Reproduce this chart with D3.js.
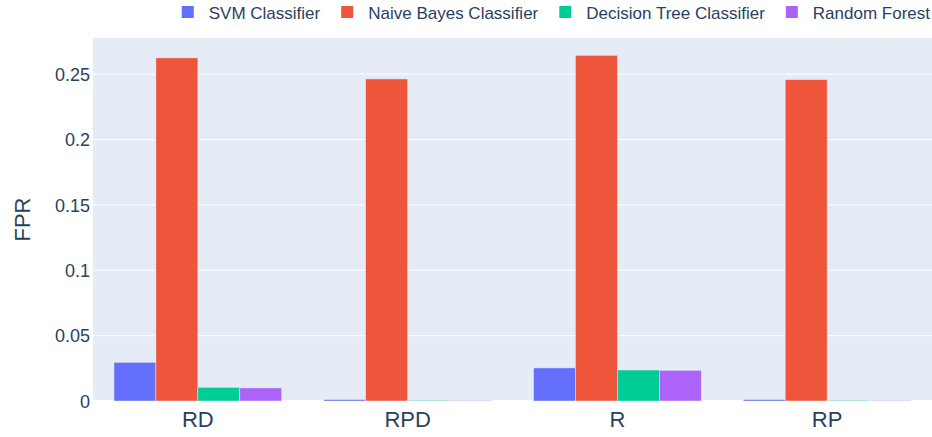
<!DOCTYPE html>
<html><head><meta charset="utf-8">
<script src="https://cdn.jsdelivr.net/npm/d3@7"></script>
<style>body{margin:0;background:#fff}svg{display:block;font-family:"Liberation Sans",Arial,sans-serif}</style>
</head><body><svg id="c" width="932" height="437"></svg>
<script>
const categories = ["RD","RPD","R","RP"];
const seriesNames = ["SVM Classifier","Naive Bayes Classifier","Decision Tree Classifier","Random Forest"];
const svmValues = [0.0296, 0.0011, 0.0253, 0.0011];
const nbValues = [0.2624, 0.2463, 0.2644, 0.2458];
const dtValues = [0.0105, 0.0006, 0.0237, 0.0006];
const rfValues = [0.0100, 0.0004, 0.0235, 0.0004];
const colors = ["#636efa","#EF553B","#00cc96","#ab63fa"];
const yTicks = [0, 0.05, 0.1, 0.15, 0.2, 0.25];
const yTickLabels = ["0","0.05","0.1","0.15","0.2","0.25"];
const yTitle = "FPR";

const series = [svmValues, nbValues, dtValues, rfValues];
const svg = d3.select("#c");
const m = {l:93, r:932, t:38, b:401};
const font = "#2a3f5f";
const maxV = d3.max(series.flat());
const y = d3.scaleLinear().domain([0, maxV*1.05]).range([m.b, m.t]);
const x0 = d3.scaleBand().domain(categories).range([m.l, m.r]).paddingInner(0.2).paddingOuter(0.1);
const x1 = d3.scaleBand().domain(d3.range(series.length)).range([0, x0.bandwidth()]);

svg.append("rect").attr("x", m.l).attr("y", m.t).attr("width", m.r-m.l).attr("height", m.b-m.t).attr("fill", "#E5ECF6");

const yAxis = d3.axisLeft(y).tickValues(yTicks).tickFormat((d,i)=>yTickLabels[i]).tickSize(0).tickPadding(3);
const ga = svg.append("g").attr("transform", `translate(${m.l},0)`).call(yAxis);
ga.select(".domain").remove();
ga.selectAll("text").attr("font-size", 18).attr("fill", font).attr("font-family", "Liberation Sans, Arial, sans-serif").attr("dy","0.35em");

svg.append("g").selectAll("line").data(yTicks.filter(d=>d>0)).join("line")
  .attr("x1", m.l).attr("x2", m.r).attr("y1", d=>y(d)).attr("y2", d=>y(d))
  .attr("stroke", "#fff").attr("stroke-width", 1);

svg.append("line").attr("x1", m.l).attr("x2", m.r).attr("y1", y(0)).attr("y2", y(0)).attr("stroke","#fff").attr("stroke-width",2);

const groups = svg.append("g").selectAll("g").data(categories).join("g")
  .attr("transform", d=>`translate(${x0(d)},0)`);
groups.selectAll("rect").data((c,ci)=>series.map((s,si)=>({si, v:s[ci]}))).join("rect")
  .attr("x", d=>x1(d.si)).attr("width", x1.bandwidth())
  .attr("y", d=>y(d.v)).attr("height", d=>y(0)-y(d.v))
  .attr("fill", d=>colors[d.si]).attr("stroke", "#E5ECF6").attr("stroke-width", 0.5);

const xAxis = d3.axisBottom(x0).tickSize(0).tickPadding(10);
const gx = svg.append("g").attr("transform", `translate(0,${m.b})`).call(xAxis);
gx.select(".domain").remove();
gx.selectAll("text").attr("font-size", 22).attr("fill", font).attr("font-family", "Liberation Sans, Arial, sans-serif").attr("dy","0.71em");

svg.append("text").attr("transform", `translate(30,${(m.t+m.b)/2}) rotate(-90)`)
  .attr("text-anchor","middle").attr("font-size", 22).attr("fill", font).text(yTitle);

// legend
const lg = svg.append("g");
const items = lg.selectAll("g").data(seriesNames).join("g");
items.append("rect").attr("x",0).attr("y",6).attr("width",12).attr("height",12).attr("fill",(d,i)=>colors[i]);
items.append("text").attr("x",27).attr("y",19).attr("font-size",17).attr("fill",font).text(d=>d);
let widths = [];
items.each(function(){ widths.push(d3.select(this).select("text").node().getComputedTextLength()); });
const gap = 21;
const total = d3.sum(widths) + widths.length*27 + (widths.length-1)*gap;
let cx = 930 - total;
items.attr("transform", (d,i)=>{ const t = `translate(${cx},0)`; cx += 27 + widths[i] + gap; return t; });
</script></body></html>
